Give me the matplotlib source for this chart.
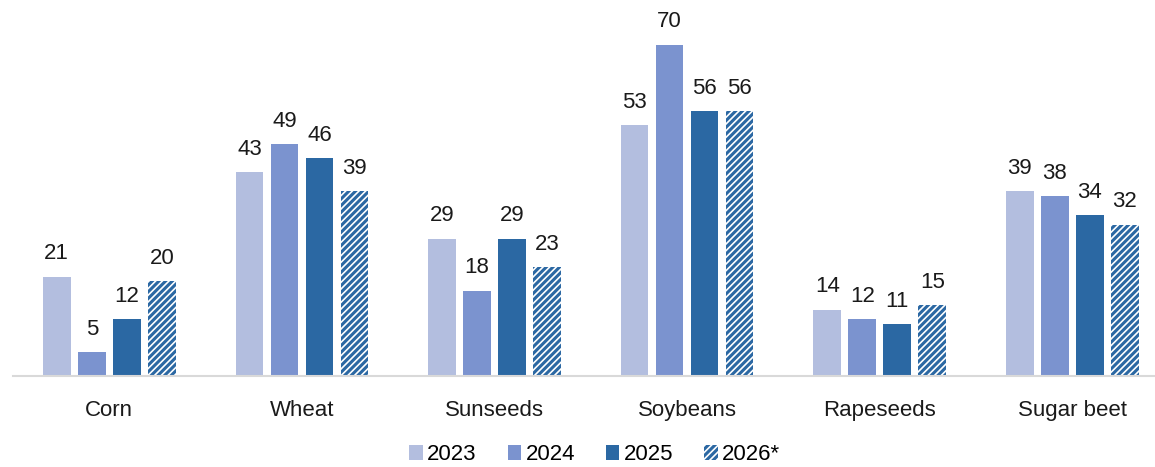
import numpy as np
import matplotlib.pyplot as plt
from matplotlib.patches import Patch

plt.rcParams['font.family'] = ['Liberation Sans', 'DejaVu Sans']
plt.rcParams['hatch.linewidth'] = 2.2

categories = ['Corn', 'Wheat', 'Sunseeds', 'Soybeans', 'Rapeseeds', 'Sugar beet']
years = ['2023', '2024', '2025', '2026*']
values = {
    '2023': [21, 43, 29, 53, 14, 39],
    '2024': [5, 49, 18, 70, 12, 38],
    '2025': [12, 46, 29, 56, 11, 34],
    '2026*': [20, 39, 23, 56, 15, 32],
}
colors = ['#b3bedf', '#7b93cf', '#2b68a3', '#ffffff']
dark = '#2b68a3'

fig = plt.figure(figsize=(11.55, 4.67), dpi=100)
# axes placed in pixels: left 13, baseline at y=376, group pitch ~192.6 px
left_px, base_px, pitch = 13, 376, 192.6
xmax = (1155 - left_px) / pitch - 0.5
ax = fig.add_axes([left_px / 1155, (467 - base_px) / 467, 1 - left_px / 1155, 355 / 467])
ax.set_xlim(-0.5, xmax)
ax.set_ylim(0, 75)

x = np.arange(len(categories))
step = 35 / pitch
width = 27.5 / pitch
handles = []
for i, yr in enumerate(years):
    pos = x + (i - 1.5) * step
    if yr == '2026*':
        bars = ax.bar(pos, values[yr], width, color='white', edgecolor=dark,
                      hatch='/////', linewidth=0)
        h = Patch(facecolor='white', edgecolor=dark, hatch='/////', linewidth=0, label=yr)
    else:
        bars = ax.bar(pos, values[yr], width, color=colors[i], linewidth=0)
        h = Patch(facecolor=colors[i], linewidth=0, label=yr)
    handles.append(h)
    for b, v in zip(bars, values[yr]):
        ax.text(b.get_x() + b.get_width() / 2, v + 2.6, str(v), ha='center', va='bottom',
                fontsize=16, color='#1a1a1a')

ax.set_xticks(x)
ax.set_xticklabels(categories, fontsize=16, color='#1a1a1a')
ax.tick_params(axis='x', length=0, pad=17)
ax.set_yticks([])
for s in ['top', 'right', 'left']:
    ax.spines[s].set_visible(False)
ax.spines['bottom'].set_color('#d9d9d9')
ax.spines['bottom'].set_linewidth(1.5)

fig.legend(handles=handles, loc='center', bbox_to_anchor=(0.515, 0.026), ncol=4,
           frameon=False, fontsize=16, handlelength=0.6, handleheight=0.6,
           handletextpad=0.2, columnspacing=1.4)

fig.savefig('out.png', dpi=100)
